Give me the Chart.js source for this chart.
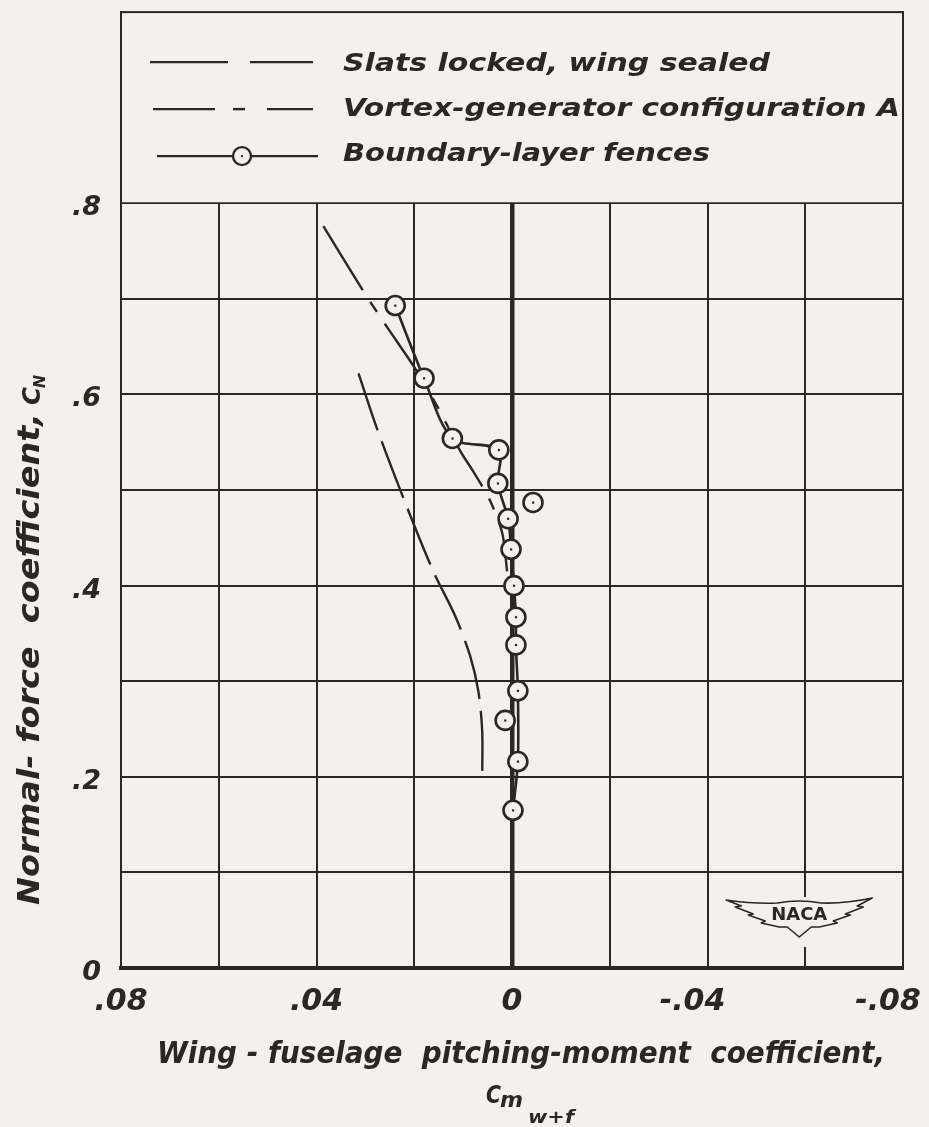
<!DOCTYPE html>
<html><head><meta charset="utf-8">
<script src="https://cdn.jsdelivr.net/npm/chart.js@4/dist/chart.umd.min.js"></script>
<style>html,body{margin:0;padding:0;background:#f4f0ea;}canvas{display:block;}</style>
</head><body>
<canvas id="c" width="929" height="1127"></canvas>
<script>
// ---- data ----
const fenceCm = [0.0239, 0.0180, 0.0122, 0.0027, 0.0029, 0.0008, 0.0002, -0.0004, -0.0008, -0.0008, -0.0012, -0.0012, -0.0002];
const fenceCn = [0.693, 0.617, 0.554, 0.542, 0.507, 0.470, 0.438, 0.400, 0.367, 0.338, 0.290, 0.216, 0.165];
const fenceOffCm = [-0.0043, 0.0014];
const fenceOffCn = [0.487, 0.259];
const vortexCm = [0.0386, 0.0304, 0.0259, 0.0198, 0.0147, 0.0106, 0.0080, 0.0045, 0.0020, 0.0010];
const vortexCn = [0.776, 0.708, 0.673, 0.627, 0.582, 0.541, 0.520, 0.489, 0.455, 0.415];
const slatsCm = [0.0314, 0.0276, 0.0214, 0.0161, 0.0116, 0.0086, 0.0069, 0.0061, 0.0061];
const slatsCn = [0.622, 0.564, 0.481, 0.415, 0.368, 0.327, 0.290, 0.248, 0.198];
const xTickValues = [0.08, 0.04, 0, -0.04, -0.08];
const xTickLabels = ['.08', '.04', '0', '-.04\u2003', '-.08\u2003'];
const yTickValues = [0, 0.2, 0.4, 0.6, 0.8];
const yTickLabels = ['0', '.2', '.4', '.6', '.8'];
const seriesNames = ['Slats locked, wing sealed', 'Vortex-generator configuration A', 'Boundary-layer fences'];
const xTitle = 'Wing - fuselage  pitching-moment  coefficient,';
const yTitle = 'Normal- force  coefficient,';

const BG = '#f4f0ea';
const INK = '#2a2724';
const FAM = '"DejaVu Sans", sans-serif';

function pts(xs, ys) { return xs.map((v, i) => ({ x: v, y: ys[i] })); }
function labelFor(v, vals, labs) {
  for (let i = 0; i < vals.length; i++) if (Math.abs(v - vals[i]) < 1e-6) return labs[i];
  return '';
}
function fitText(ctx, text, x, y, w, size, baseline, weight) {
  ctx.save();
  ctx.font = `italic ${weight || 'bold'} ${size}px ${FAM}`;
  const m = ctx.measureText(text).width;
  ctx.translate(x, y);
  ctx.scale(w / m, 1);
  ctx.textBaseline = baseline || 'middle';
  ctx.textAlign = 'left';
  ctx.fillStyle = INK;
  ctx.fillText(text, 0, 0);
  ctx.restore();
}
function dashSeg(ctx, x1, x2, y) {
  ctx.beginPath(); ctx.moveTo(x1, y); ctx.lineTo(x2, y); ctx.stroke();
}

const decor = {
  id: 'decor',
  beforeDatasetsDraw(chart) {
    const { ctx, chartArea: a, scales: { x, y } } = chart;
    const y8 = y.getPixelForValue(0.8);
    ctx.save();
    // legend panel above .8 (no inner grid), then a clean top frame line
    ctx.fillStyle = BG;
    ctx.fillRect(a.left + 1, 0, a.right - a.left - 2, y8 - 1);
    ctx.fillStyle = INK;
    ctx.fillRect(a.left - 1, a.top - 1, a.right - a.left + 2, 2);
    // gap in the -.06 line for the NACA emblem
    ctx.fillStyle = BG;
    const gx = x.getPixelForValue(-0.06);
    ctx.fillRect(gx - 3, a.bottom - 71, 6, 50);
    // NACA emblem
    const cx = gx - 6, t = a.bottom - 68;
    ctx.strokeStyle = INK; ctx.lineWidth = 1.6; ctx.lineJoin = 'round';
    ctx.beginPath();
    ctx.moveTo(cx - 73, t);
    ctx.quadraticCurveTo(cx - 45, t + 4, cx - 22, t + 3);
    ctx.quadraticCurveTo(cx, t - 1, cx + 22, t + 3);
    ctx.quadraticCurveTo(cx + 45, t + 4, cx + 73, t - 2);
    ctx.lineTo(cx + 58, t + 6); ctx.lineTo(cx + 64, t + 7);
    ctx.lineTo(cx + 46, t + 14); ctx.lineTo(cx + 51, t + 15);
    ctx.lineTo(cx + 34, t + 21); ctx.lineTo(cx + 38, t + 23);
    ctx.lineTo(cx + 20, t + 27); ctx.lineTo(cx + 12, t + 27);
    ctx.lineTo(cx, t + 37);
    ctx.lineTo(cx - 12, t + 27); ctx.lineTo(cx - 20, t + 27);
    ctx.lineTo(cx - 38, t + 23); ctx.lineTo(cx - 34, t + 21);
    ctx.lineTo(cx - 51, t + 15); ctx.lineTo(cx - 46, t + 14);
    ctx.lineTo(cx - 64, t + 7); ctx.lineTo(cx - 58, t + 6);
    ctx.closePath();
    ctx.fillStyle = BG; ctx.fill(); ctx.stroke();
    ctx.font = `bold 17px ${FAM}`;
    ctx.fillStyle = INK; ctx.textAlign = 'center'; ctx.textBaseline = 'middle';
    const nm = ctx.measureText('NACA').width;
    ctx.save(); ctx.translate(cx, t + 16); ctx.scale(56 / nm, 1); ctx.fillText('NACA', 0, 0); ctx.restore();

    // legend
    ctx.strokeStyle = INK; ctx.lineWidth = 2.4; ctx.lineCap = 'butt';
    const L = a.left;
    dashSeg(ctx, L + 29, L + 107, a.top + 50);
    dashSeg(ctx, L + 129, L + 192, a.top + 50);
    dashSeg(ctx, L + 32, L + 94, a.top + 97);
    dashSeg(ctx, L + 112, L + 124, a.top + 97);
    dashSeg(ctx, L + 146, L + 192, a.top + 97);
    dashSeg(ctx, L + 36, L + 197, a.top + 144);
    ctx.beginPath(); ctx.arc(L + 121, a.top + 144, 9, 0, Math.PI * 2);
    ctx.fillStyle = BG; ctx.fill(); ctx.lineWidth = 2.4; ctx.stroke();
    ctx.fillStyle = INK; ctx.fillRect(L + 120, a.top + 143, 2, 2);
    fitText(ctx, seriesNames[0], L + 222, a.top + 52, 427, 25);
    fitText(ctx, seriesNames[1], L + 222, a.top + 97, 557, 25);
    fitText(ctx, seriesNames[2], L + 222, a.top + 142, 367, 25);
    ctx.restore();
  },
  afterDatasetsDraw(chart) {
    const ctx = chart.ctx;
    ctx.save(); ctx.fillStyle = INK;
    [0, 1].forEach(i => {
      chart.getDatasetMeta(i).data.forEach(p => { ctx.fillRect(p.x - 1, p.y - 1, 2.2, 2.2); });
    });
    ctx.restore();
  },
  afterDraw(chart) {
    const ctx = chart.ctx;
    // x title
    fitText(ctx, xTitle, 157, 1055, 728, 30);
    // C m w+f
    fitText(ctx, 'C', 486, 1103, 15, 25, 'alphabetic');
    fitText(ctx, 'm', 500, 1107, 23, 22, 'alphabetic');
    fitText(ctx, 'w+f', 528, 1123, 46, 17, 'alphabetic');
    // y title (rotated)
    ctx.save();
    ctx.translate(31, 905);
    ctx.rotate(-Math.PI / 2);
    fitText(ctx, yTitle, 0, 0, 492, 30);
    fitText(ctx, 'C', 500, 9, 18, 25, 'alphabetic');
    fitText(ctx, 'N', 517, 14, 13, 15, 'alphabetic');
    ctx.restore();
  }
};

const tickFont = (size) => ({ family: FAM, style: 'italic', weight: 'bold', size });

new Chart(document.getElementById('c'), {
  type: 'scatter',
  data: {
    datasets: [
      {
        label: seriesNames[2], data: pts(fenceCm, fenceCn), showLine: true,
        borderColor: INK, borderWidth: 2.6, tension: 0.3,
        pointRadius: 9.5, pointBorderWidth: 2.6, pointBackgroundColor: BG, pointBorderColor: INK,
        order: 0
      },
      {
        label: seriesNames[2] + ' (off line)', data: pts(fenceOffCm, fenceOffCn), showLine: false,
        pointRadius: 9.5, pointBorderWidth: 2.6, pointBackgroundColor: BG, pointBorderColor: INK,
        order: 0
      },
      {
        label: seriesNames[1], data: pts(vortexCm, vortexCn), showLine: true,
        borderColor: INK, borderWidth: 2.4, borderDash: [75, 14, 12, 14], tension: 0.3,
        pointRadius: 0, order: 1
      },
      {
        label: seriesNames[0], data: pts(slatsCm, slatsCn), showLine: true,
        borderColor: INK, borderWidth: 2.4, borderDash: [60, 12], tension: 0.3,
        pointRadius: 0, order: 1
      }
    ]
  },
  options: {
    responsive: false, animation: false, devicePixelRatio: 1,
    layout: { padding: { top: 10, right: 26, left: 0, bottom: 0 } },
    plugins: { legend: { display: false }, tooltip: { enabled: false } },
    scales: {
      x: {
        type: 'linear', reverse: true, min: -0.08, max: 0.08,
        ticks: {
          stepSize: 0.02, autoSkip: false, maxRotation: 0, padding: 16, color: INK,
          font: tickFont(30), callback: v => labelFor(v, xTickValues, xTickLabels)
        },
        grid: {
          color: INK, drawTicks: false,
          lineWidth: c => (c.tick && Math.abs(c.tick.value) < 1e-6) ? 4.5 : 2
        },
        border: { display: true, color: INK, width: 4 },
        afterFit: s => { s.height = 159; s.paddingLeft = 0; s.paddingRight = 0; }
      },
      y: {
        type: 'linear', min: 0, max: 1.0,
        ticks: {
          stepSize: 0.1, autoSkip: false, padding: 20, labelOffset: 5, color: INK,
          font: tickFont(27), callback: v => labelFor(v, yTickValues, yTickLabels)
        },
        grid: {
          drawTicks: false, lineWidth: 2,
          color: c => (c.tick && c.tick.value > 0.8001 && c.tick.value < 0.999) ? 'rgba(0,0,0,0)' : INK
        },
        border: { display: true, color: INK, width: 2 },
        afterFit: s => { s.width = 121; s.paddingTop = 0; s.paddingBottom = 0; }
      }
    }
  },
  plugins: [decor]
});
</script>
</body></html>
